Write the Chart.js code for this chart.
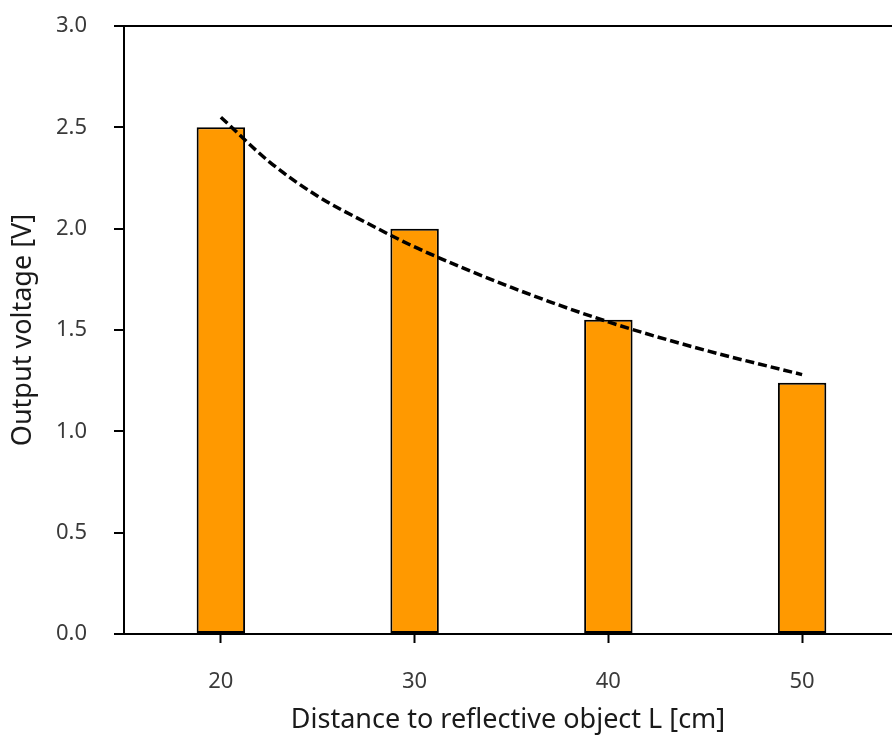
<!DOCTYPE html>
<html>
<head>
<meta charset="utf-8">
<script src="https://cdn.jsdelivr.net/npm/chart.js@4"></script>
<style>
  html, body { margin: 0; padding: 0; background: #fff; overflow: hidden; }
</style>
</head>
<body>
<canvas id="chart" width="892" height="737"></canvas>
<script>
// bars: distance to reflective object vs output voltage
const distances = [20, 30, 40, 50];
const voltages = [2.5, 2.0, 1.55, 1.24];

// dashed trend curve
const trendX = [20, 22.5, 25, 27.5, 30, 35, 40, 45, 50];
const trendY = [2.55, 2.33, 2.16, 2.03, 1.91, 1.71, 1.54, 1.40, 1.28];

const xTicks = [20, 30, 40, 50];
const yTicks = [0, 0.5, 1.0, 1.5, 2.0, 2.5, 3.0];

const tickFont = { family: "'Noto Sans', sans-serif", size: 22 };
const titleFont = { family: "'Noto Sans', sans-serif", size: 27 };

const chart = new Chart(document.getElementById('chart'), {
  type: 'bar',
  data: {
    datasets: [
      {
        label: 'Output voltage',
        data: distances.map((d, i) => ({ x: d, y: voltages[i] })),
        xAxisID: 'x',
        backgroundColor: '#FF9900',
        borderColor: '#000',
        borderWidth: 2,
        borderSkipped: false,
        grouped: false,
        categoryPercentage: 1.0,
        barPercentage: 0.25,
        order: 2
      },
      {
        type: 'line',
        label: 'Trend',
        data: trendX.map((x, i) => ({ x: x, y: trendY[i] })),
        xAxisID: 'x',
        borderColor: '#000',
        borderWidth: 3.5,
        borderDash: [9, 4],
        pointRadius: 0,
        fill: false,
        cubicInterpolationMode: 'monotone',
        order: 1
      }
    ]
  },
  options: {
    responsive: false,
    animation: false,
    layout: { padding: { left: 0, right: 0, top: 26, bottom: 0 } },
    plugins: {
      legend: { display: false },
      tooltip: { enabled: false }
    },
    scales: {
      x: {
        type: 'linear',
        min: 15,
        max: 54.64,
        offset: false,
        afterBuildTicks: (axis) => { axis.ticks = xTicks.map(v => ({ value: v })); },
        grid: {
          offset: false,
          drawOnChartArea: false,
          drawTicks: true,
          tickLength: 9,
          tickWidth: 2,
          tickColor: '#000'
        },
        border: { display: true, color: '#000', width: 2 },
        ticks: { font: tickFont, color: '#3a3a3a', padding: 26, maxRotation: 0 },
        title: {
          display: true,
          text: 'Distance to reflective object L [cm]',
          font: titleFont,
          color: '#1a1a1a',
          padding: { top: 0, bottom: 0 }
        },
        afterFit: (axis) => {
          axis.height = 103;
          axis.paddingLeft = 0;
          axis.paddingRight = 0;
        }
      },
      y: {
        min: 0,
        max: 3,
        afterBuildTicks: (axis) => { axis.ticks = yTicks.map(v => ({ value: v })); },
        grid: {
          drawTicks: true,
          tickLength: 10,
          tickWidth: 2,
          tickColor: '#000',
          lineWidth: 2,
          color: (c) => (c.tick && c.tick.value === 3 ? '#000' : 'rgba(0,0,0,0)')
        },
        border: { display: true, color: '#000', width: 2 },
        ticks: {
          font: tickFont,
          color: '#3a3a3a',
          padding: 27,
          callback: (v) => Number(v).toFixed(1)
        },
        title: {
          display: true,
          text: 'Output voltage [V]',
          font: titleFont,
          color: '#1a1a1a',
          padding: { top: 7, bottom: 0 }
        },
        afterFit: (axis) => {
          axis.width = 124;
          axis.paddingTop = 0;
          axis.paddingBottom = 0;
        }
      }
    }
  }
});
</script>
</body>
</html>
